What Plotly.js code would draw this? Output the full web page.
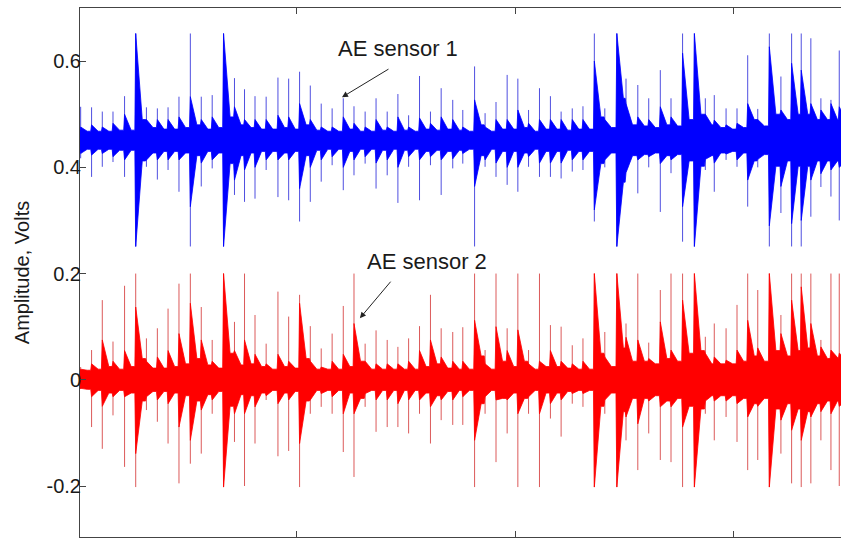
<!DOCTYPE html>
<html>
<head>
<meta charset="utf-8">
<script src="https://cdn.plot.ly/plotly-3.0.1.min.js"></script>
<style>
  html, body { margin: 0; padding: 0; background: #fff; overflow: hidden; }
  #chart { width: 841px; height: 544px; }
</style>
</head>
<body>
<div id="chart"></div>
<script>
// ---- Data ----
// Burst (impact) times, x-axis units
const burstTime = [0.010,0.060,0.109,0.158,0.211,0.262,0.311,0.361,0.410,0.460,
  0.512,0.562,0.612,0.664,0.714,0.760,0.808,0.859,0.913,0.962,
  1.012,1.061,1.111,1.161,1.212,1.261,1.312,1.362,1.413,1.462,
  1.511,1.561,1.611,1.660,1.713,1.759,1.813,1.861,1.911,1.962,
  2.011,2.060,2.110,2.160,2.209,2.260,2.309,2.361,2.409,2.464,
  2.506,2.560,2.610,2.663,2.712,2.765,2.819,2.869,2.910,2.964,
  3.014,3.063,3.109,3.162,3.215,3.264,3.308,3.352,3.398,3.444,3.482];

// AE sensor 1 (blue, offset 0.45 V)
const s1SpikeHi = [0.514,0.513,0.505,0.505,0.534,0.652,0.513,0.511,0.513,0.533,
  0.652,0.533,0.536,0.652,0.568,0.547,0.534,0.533,0.569,0.567,
  0.580,0.554,0.520,0.511,0.530,0.515,0.505,0.530,0.505,0.538,
  0.498,0.572,0.505,0.549,0.527,0.508,0.590,0.502,0.523,0.574,
  0.567,0.508,0.549,0.534,0.505,0.511,0.515,0.652,0.511,0.652,
  0.567,0.555,0.530,0.583,0.530,0.652,0.652,0.530,0.536,0.511,
  0.511,0.611,0.510,0.652,0.571,0.652,0.652,0.643,0.530,0.527,0.620];
const s1SpikeLo = [0.417,0.382,0.401,0.410,0.382,0.251,0.401,0.377,0.395,0.354,
  0.251,0.364,0.398,0.251,0.348,0.335,0.341,0.395,0.344,0.338,
  0.298,0.335,0.373,0.404,0.357,0.385,0.407,0.360,0.385,0.333,
  0.401,0.338,0.404,0.348,0.398,0.407,0.251,0.401,0.382,0.367,
  0.354,0.401,0.382,0.382,0.379,0.392,0.395,0.298,0.400,0.251,
  0.410,0.351,0.400,0.316,0.389,0.260,0.251,0.395,0.354,0.414,
  0.401,0.326,0.400,0.251,0.314,0.251,0.251,0.307,0.363,0.345,0.300];
const s1DenseHi = [0.476,0.480,0.476,0.483,0.500,0.652,0.490,0.490,0.490,0.495,
  0.533,0.490,0.495,0.652,0.514,0.490,0.490,0.490,0.498,0.495,
  0.520,0.490,0.476,0.476,0.495,0.483,0.476,0.490,0.476,0.495,
  0.476,0.493,0.483,0.495,0.490,0.476,0.527,0.476,0.490,0.490,
  0.508,0.483,0.490,0.490,0.490,0.490,0.490,0.600,0.490,0.652,
  0.520,0.495,0.490,0.514,0.495,0.615,0.652,0.500,0.489,0.480,
  0.483,0.520,0.490,0.627,0.508,0.596,0.583,0.520,0.508,0.520,0.514];
const s1DenseLo = [0.426,0.423,0.426,0.420,0.414,0.251,0.414,0.414,0.414,0.414,
  0.326,0.408,0.414,0.251,0.376,0.395,0.400,0.414,0.414,0.414,
  0.360,0.400,0.414,0.420,0.400,0.414,0.420,0.408,0.414,0.400,
  0.420,0.414,0.420,0.414,0.416,0.426,0.364,0.414,0.408,0.400,
  0.400,0.420,0.408,0.408,0.408,0.414,0.414,0.320,0.414,0.251,
  0.390,0.414,0.420,0.407,0.414,0.326,0.251,0.415,0.408,0.425,
  0.414,0.376,0.415,0.290,0.364,0.294,0.300,0.376,0.388,0.395,0.400];
const s1FloorHi = [0.468,0.468,0.468,0.468,0.470,0.470,0.490,0.475,0.472,0.472,
  0.475,0.480,0.472,0.475,0.495,0.480,0.475,0.472,0.472,0.475,
  0.472,0.480,0.470,0.468,0.468,0.472,0.468,0.468,0.470,0.468,
  0.470,0.468,0.472,0.470,0.472,0.470,0.468,0.480,0.468,0.472,
  0.472,0.475,0.468,0.472,0.472,0.470,0.472,0.472,0.495,0.475,
  0.530,0.480,0.478,0.475,0.480,0.478,0.490,0.500,0.480,0.475,
  0.472,0.475,0.490,0.478,0.500,0.490,0.500,0.500,0.490,0.490,0.490];
const s1FloorLo = [0.434,0.434,0.434,0.434,0.432,0.432,0.412,0.427,0.430,0.430,
  0.427,0.422,0.430,0.427,0.407,0.422,0.427,0.430,0.430,0.427,
  0.430,0.422,0.432,0.434,0.434,0.430,0.434,0.434,0.432,0.434,
  0.432,0.434,0.430,0.432,0.430,0.432,0.434,0.422,0.434,0.430,
  0.430,0.427,0.434,0.430,0.430,0.432,0.430,0.430,0.407,0.427,
  0.372,0.422,0.424,0.427,0.422,0.424,0.412,0.402,0.422,0.427,
  0.430,0.427,0.412,0.424,0.402,0.412,0.402,0.402,0.412,0.412,0.412];

// AE sensor 2 (red, offset 0 V)
const s2SpikeHi = [0.024,0.056,0.150,0.072,0.177,0.200,0.078,0.097,0.134,0.181,
  0.200,0.137,0.075,0.200,0.109,0.200,0.122,0.068,0.166,0.119,
  0.160,0.101,0.059,0.087,0.139,0.200,0.068,0.093,0.075,0.062,
  0.078,0.101,0.160,0.097,0.090,0.099,0.200,0.056,0.200,0.097,
  0.200,0.056,0.200,0.103,0.100,0.065,0.078,0.200,0.090,0.200,
  0.106,0.200,0.070,0.169,0.200,0.200,0.200,0.081,0.106,0.097,
  0.141,0.200,0.169,0.200,0.122,0.200,0.200,0.200,0.075,0.200,0.200];
const s2SpikeLo = [-0.017,-0.089,-0.130,-0.067,-0.164,-0.202,-0.057,-0.079,-0.120,-0.195,
  -0.158,-0.139,-0.064,-0.202,-0.117,-0.200,-0.120,-0.038,-0.144,-0.134,
  -0.202,-0.064,-0.051,-0.064,-0.136,-0.183,-0.051,-0.098,-0.089,-0.089,
  -0.101,-0.064,-0.120,-0.076,-0.085,-0.085,-0.202,-0.064,-0.155,-0.101,
  -0.202,-0.064,-0.202,-0.073,-0.107,-0.045,-0.051,-0.202,-0.064,-0.202,
  -0.114,-0.170,-0.101,-0.151,-0.155,-0.202,-0.202,-0.064,-0.114,-0.070,
  -0.117,-0.170,-0.151,-0.202,-0.139,-0.195,-0.202,-0.195,-0.114,-0.170,-0.200];
const s2DenseHi = [0.020,0.030,0.075,0.035,0.055,0.137,0.035,0.043,0.055,0.087,
  0.144,0.075,0.035,0.200,0.055,0.075,0.048,0.030,0.048,0.035,
  0.144,0.035,0.024,0.035,0.048,0.106,0.035,0.030,0.030,0.030,
  0.035,0.055,0.075,0.043,0.035,0.035,0.112,0.030,0.100,0.055,
  0.094,0.030,0.035,0.055,0.035,0.030,0.035,0.200,0.043,0.200,
  0.080,0.075,0.040,0.109,0.056,0.150,0.200,0.050,0.043,0.037,
  0.056,0.112,0.060,0.200,0.087,0.150,0.175,0.106,0.062,0.056,0.050];
const s2DenseLo = [-0.016,-0.032,-0.050,-0.032,-0.032,-0.139,-0.032,-0.038,-0.045,-0.089,
  -0.114,-0.057,-0.038,-0.202,-0.064,-0.064,-0.051,-0.030,-0.045,-0.038,
  -0.120,-0.038,-0.026,-0.032,-0.064,-0.064,-0.026,-0.038,-0.038,-0.045,
  -0.038,-0.038,-0.051,-0.038,-0.038,-0.032,-0.114,-0.032,-0.038,-0.038,
  -0.064,-0.032,-0.064,-0.045,-0.038,-0.026,-0.026,-0.202,-0.038,-0.202,
  -0.070,-0.083,-0.040,-0.051,-0.051,-0.089,-0.202,-0.040,-0.040,-0.040,
  -0.045,-0.070,-0.050,-0.202,-0.076,-0.095,-0.114,-0.070,-0.060,-0.064,-0.050];
const s2FloorHi = [0.018,0.018,0.020,0.025,0.020,0.025,0.040,0.022,0.022,0.025,
  0.030,0.040,0.028,0.022,0.050,0.028,0.030,0.025,0.020,0.025,
  0.022,0.040,0.020,0.020,0.020,0.025,0.035,0.020,0.020,0.020,
  0.020,0.020,0.025,0.030,0.022,0.020,0.020,0.045,0.020,0.035,
  0.025,0.035,0.020,0.025,0.025,0.022,0.020,0.020,0.050,0.025,
  0.060,0.035,0.035,0.030,0.040,0.035,0.050,0.055,0.030,0.030,
  0.030,0.035,0.045,0.035,0.055,0.045,0.055,0.060,0.045,0.040,0.040];
const s2FloorLo = [-0.018,-0.018,-0.020,-0.025,-0.020,-0.025,-0.040,-0.022,-0.022,-0.025,
  -0.030,-0.040,-0.028,-0.022,-0.050,-0.028,-0.030,-0.025,-0.020,-0.025,
  -0.022,-0.040,-0.020,-0.020,-0.020,-0.025,-0.035,-0.020,-0.020,-0.020,
  -0.020,-0.020,-0.025,-0.030,-0.022,-0.020,-0.020,-0.045,-0.020,-0.035,
  -0.025,-0.035,-0.020,-0.025,-0.025,-0.022,-0.020,-0.020,-0.050,-0.025,
  -0.060,-0.035,-0.035,-0.030,-0.040,-0.035,-0.050,-0.055,-0.030,-0.030,
  -0.030,-0.035,-0.045,-0.035,-0.055,-0.045,-0.055,-0.060,-0.045,-0.040,-0.040];

const yTickVals = [-0.2, 0, 0.2, 0.4, 0.6];
const yTickText = ['-0.2', '0', '0.2', '0.4', '0.6'];
const xTickVals = [1, 2, 3];

// ---- Drawing helpers (geometry only) ----
const ONSET = 0.004;   // rise width of a burst, axis units
const DECAY = 0.03;    // width of a burst's dense tail, axis units
const X_END = 3.50;

function envelope(floor, peak) {
  const x = [], y = [];
  const n = burstTime.length;
  for (let k = 0; k < n; k++) {
    const next = k + 1 < n ? floor[k + 1] : floor[k];
    x.push(burstTime[k] - ONSET, burstTime[k], burstTime[k] + DECAY);
    y.push(floor[k], peak[k], next);
  }
  x.push(X_END); y.push(floor[n - 1]);
  return { x, y };
}
function spikes(lo, hi) {
  const x = [], y = [];
  for (let k = 0; k < burstTime.length; k++) {
    x.push(burstTime[k], burstTime[k], null);
    y.push(lo[k], hi[k], null);
  }
  return { x, y };
}

const FONT = 'Liberation Sans, Arial, Helvetica, sans-serif';

function signalTraces(spikeLo, spikeHi, denseLo, denseHi, floorLo, floorHi, col, spikeCol, name) {
  const sp = spikes(spikeLo, spikeHi);
  const top = envelope(floorHi, denseHi);
  const bot = envelope(floorLo, denseLo);
  return [
    { type: 'scatter', mode: 'lines', x: sp.x, y: sp.y, name: name + ' peaks',
      line: { color: spikeCol, width: 1 }, hoverinfo: 'skip', showlegend: false },
    { type: 'scatter', mode: 'lines', x: top.x, y: top.y, name: name,
      line: { color: col, width: 0.8 }, hoverinfo: 'skip', showlegend: false },
    { type: 'scatter', mode: 'lines', x: bot.x, y: bot.y, name: name,
      line: { color: col, width: 0.8 }, fill: 'tonexty', fillcolor: col,
      hoverinfo: 'skip', showlegend: false }
  ];
}

const data = [].concat(
  signalTraces(s1SpikeLo, s1SpikeHi, s1DenseLo, s1DenseHi, s1FloorLo, s1FloorHi,
               '#0000ff', '#4f4fe0', 'AE sensor 1'),
  signalTraces(s2SpikeLo, s2SpikeHi, s2DenseLo, s2DenseHi, s2FloorLo, s2FloorHi,
               '#ff0000', '#dc5a5a', 'AE sensor 2')
);

const layout = {
  width: 841, height: 544,
  margin: { l: 80, r: 0, t: 8, b: 7, pad: 0 },
  paper_bgcolor: '#ffffff', plot_bgcolor: '#ffffff',
  showlegend: false,
  font: { family: FONT, size: 20, color: '#1a1a1a' },
  xaxis: {
    range: [0.007, 3.490], tickvals: xTickVals, showticklabels: false,
    ticks: 'inside', ticklen: 6, tickwidth: 1, tickcolor: '#444',
    showline: true, linecolor: '#444', linewidth: 1, mirror: 'ticks',
    showgrid: false, zeroline: false
  },
  yaxis: {
    range: [-0.296, 0.70], tickvals: yTickVals, ticktext: yTickText,
    ticks: 'inside', ticklen: 6, tickwidth: 1, tickcolor: '#444',
    showline: true, linecolor: '#444', linewidth: 1, mirror: false,
    showgrid: false, zeroline: false, ticklabelstandoff: -6,
    tickfont: { family: FONT, size: 20, color: '#1a1a1a' },
    title: { text: 'Amplitude, Volts', font: { family: FONT, size: 20, color: '#1a1a1a' }, standoff: 11 }
  },
  annotations: [
    { x: 1.462, y: 0.624, xref: 'x', yref: 'y', text: 'AE sensor 1', showarrow: false,
      font: { family: FONT, size: 22, color: '#1a1a1a' } },
    { x: 1.206, y: 0.532, xref: 'x', yref: 'y', text: '', showarrow: true,
      ax: 48, ay: -29, arrowhead: 2, arrowsize: 1.2, arrowwidth: 1, arrowcolor: '#222' },
    { x: 1.594, y: 0.222, xref: 'x', yref: 'y', text: 'AE sensor 2', showarrow: false,
      font: { family: FONT, size: 22, color: '#1a1a1a' } },
    { x: 1.288, y: 0.116, xref: 'x', yref: 'y', text: '', showarrow: true,
      ax: 32, ay: -38, arrowhead: 2, arrowsize: 1.2, arrowwidth: 1, arrowcolor: '#222' }
  ]
};

Plotly.newPlot('chart', data, layout, { displayModeBar: false, staticPlot: true });
</script>
</body>
</html>
